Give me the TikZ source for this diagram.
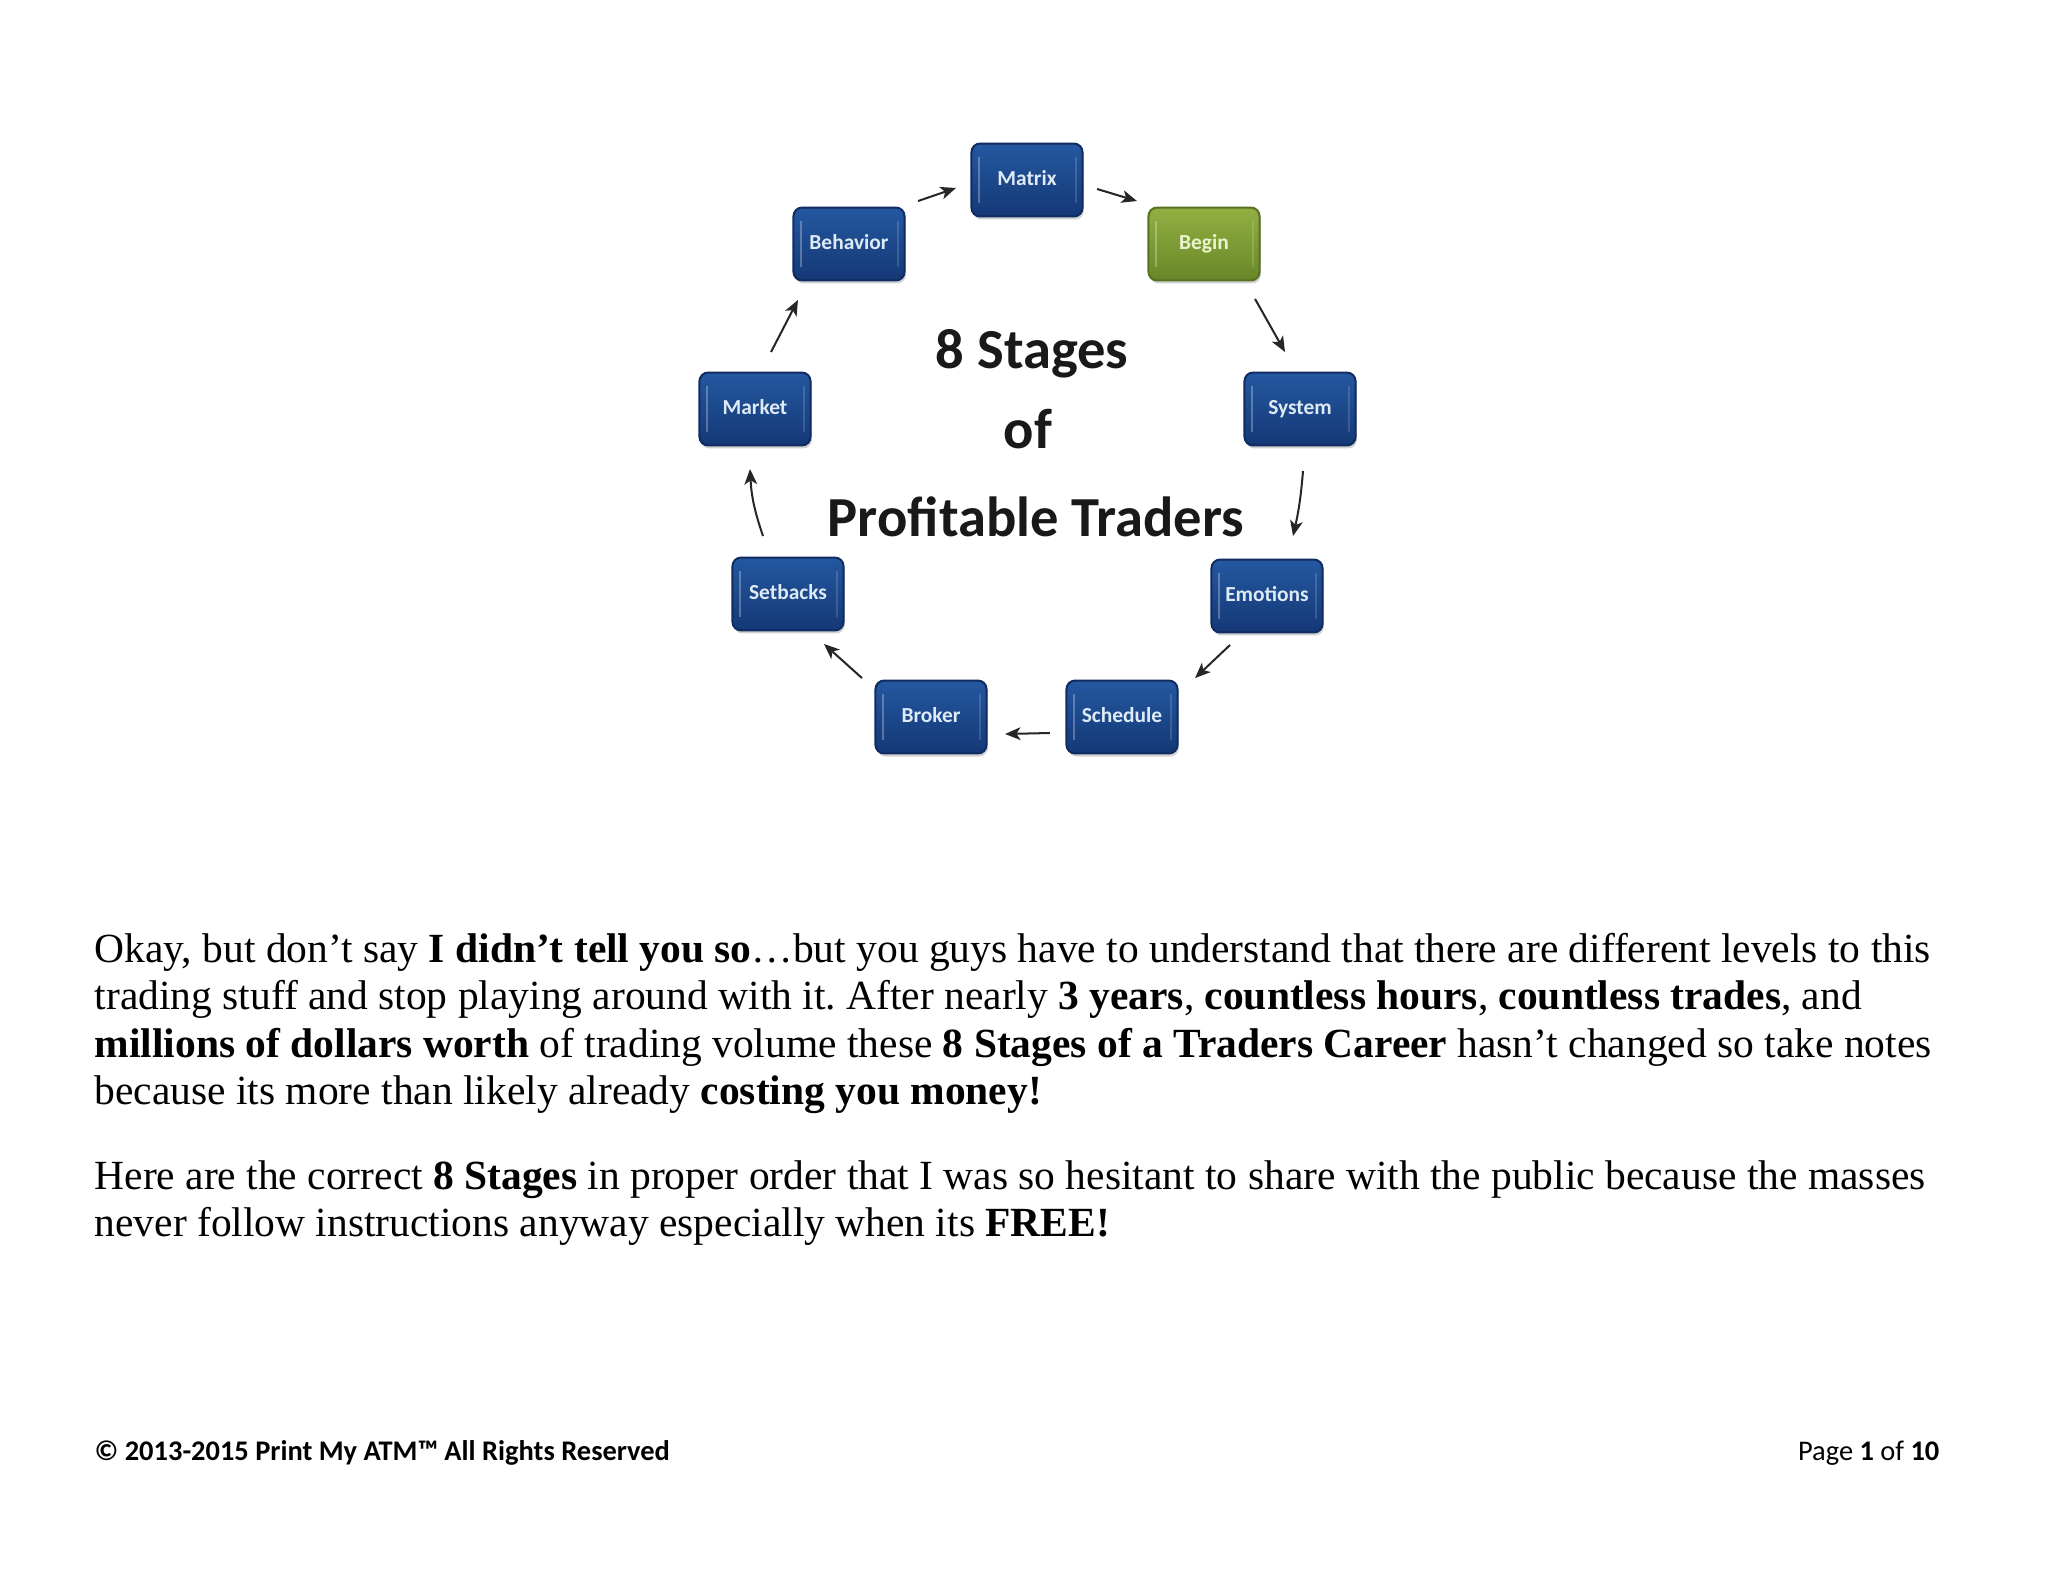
\documentclass[tikz,border=0pt]{standalone}
\usepackage{fontspec}
\setmainfont{Liberation Serif}
\newfontfamily\calfont{Carlito}
\usetikzlibrary{arrows.meta,shadows}
\frenchspacing
\definecolor{btop}{RGB}{36,88,160}
\definecolor{bbot}{RGB}{20,56,118}
\definecolor{bdraw}{RGB}{16,44,98}
\definecolor{btext}{RGB}{222,234,246}
\definecolor{gtop}{RGB}{146,176,66}
\definecolor{gbot}{RGB}{104,134,40}
\definecolor{gdraw}{RGB}{88,114,34}
\definecolor{gtext}{RGB}{236,244,206}
\tikzset{
  stagebox/.style={rectangle, rounded corners=2.6pt, minimum width=33.2pt, minimum height=21.8pt,
    top color=btop, bottom color=bbot, draw=bdraw, line width=0.6pt,
    text=btext, font=\calfont\bfseries\fontsize{6.4}{7.5}\selectfont,
    text height=4.7pt, text depth=1.4pt,
    drop shadow={opacity=0.35, shadow xshift=0.4pt, shadow yshift=-0.9pt},
    path picture={
      \draw[white, opacity=0.28, line width=0.7pt]
        ([xshift=2.2pt,yshift=-4pt]path picture bounding box.north west) --
        ([xshift=2.2pt,yshift=4pt]path picture bounding box.south west);
      \draw[white, opacity=0.15, line width=0.6pt]
        ([xshift=-2pt,yshift=-4pt]path picture bounding box.north east) --
        ([xshift=-2pt,yshift=4pt]path picture bounding box.south east);
    }},
  greenbox/.style={stagebox, top color=gtop, bottom color=gbot, draw=gdraw, text=gtext},
  arr/.style={-{Stealth[length=4.6pt,width=3.8pt,inset=1.2pt]}, line width=0.6pt, black!85},
  title/.style={font=\calfont\bfseries\fontsize{16.9}{20}\selectfont, anchor=base, text=black!90},
  para/.style={font=\fontsize{12.4}{14.2}\selectfont, anchor=base west, inner sep=0pt, text=black},
  foot/.style={font=\calfont\fontsize{8.5}{10}\selectfont, inner sep=0pt, text=black}
}
\begin{document}
\begin{tikzpicture}[x=0.29883pt, y=-0.29883pt]
\useasboundingbox[fill=white] (0,0) rectangle (2048,1582);

% stage boxes
\node[stagebox] (mat) at (1027,180) {Matrix};
\node[stagebox] (beh) at (849,244) {Behavior};
\node[greenbox] (beg) at (1204,244) {Begin};
\node[stagebox] (mar) at (755,409) {Market};
\node[stagebox] (sys) at (1300,409) {System};
\node[stagebox] (set) at (788,594) {Setbacks};
\node[stagebox] (emo) at (1267,596) {Emotions};
\node[stagebox] (bro) at (931,717) {Broker};
\node[stagebox] (sch) at (1122,717) {Schedule};

% title
\node[title] (t1) at (1032,368) {8 Stages};
\node[title] (t2) at (1028,448) {of};
\node[title] (t3) at (1036,536) {Profitable Traders};

% arrows
\draw[arr] ([shift={(12.5,-5.5)}]beh.north east) -- ([shift={(-14.5,8)}]mat.west);
\draw[arr] ([shift={(13.5,9)}]mat.east) -- ([shift={(-10.5,-5.5)}]beg.north west);
\draw[arr] ([shift={(-5.5,17.5)}]beg.south east) -- ([shift={(-15,-19.5)}]sys.north);
\draw[arr] ([shift={(3,24.5)}]sys.south) to[bend left=4] ([shift={(26,-22.5)}]emo.north);
\draw[arr] ([shift={(-37,11.5)}]emo.south) -- ([shift={(16.5,-1.5)}]sch.north east);
\draw[arr] ([shift={(-15.5,16)}]sch.west) -- ([shift={(17.5,17)}]bro.east);
\draw[arr] ([shift={(-12.5,-1.5)}]bro.north west) -- ([shift={(36,12.5)}]set.south);
\draw[arr] ([shift={(-25,-20.5)}]set.north) to[bend left=8] ([shift={(-5,22.5)}]mar.south);
\draw[arr] ([shift={(16,-19.5)}]mar.north) -- ([shift={(5.5,18.5)}]beh.south west);

% paragraph text
\node[para] (p1) at (94,962) {Okay, but don’t say \textbf{I didn’t tell you so}…but you guys have to understand that there are different levels to this};
\node[para] (p2) at (94,1009.5) {trading stuff and stop playing around with it. After nearly \textbf{3 years}, \textbf{countless hours}, \textbf{countless trades}, and};
\node[para] (p3) at (94,1057) {\textbf{millions of dollars worth} of trading volume these \textbf{8 Stages of a Traders Career} hasn’t changed so take notes};
\node[para] (p4) at (94,1104.5) {because its more than likely already \textbf{costing you money!}};
\node[para] (p5) at (94,1189) {Here are the correct \textbf{8 Stages} in proper order that I was so hesitant to share with the public because the masses};
\node[para] (p6) at (94,1236.5) {never follow instructions anyway especially when its \textbf{FREE!}};

% footer
\node[foot, anchor=base west] (f1) at (94,1460) {\bfseries © 2013-2015 Print My ATM™ All Rights Reserved};
\node[foot, anchor=base east] (f2) at (1940,1460) {Page \textbf{1} of \textbf{10}};
\end{tikzpicture}
\end{document}
